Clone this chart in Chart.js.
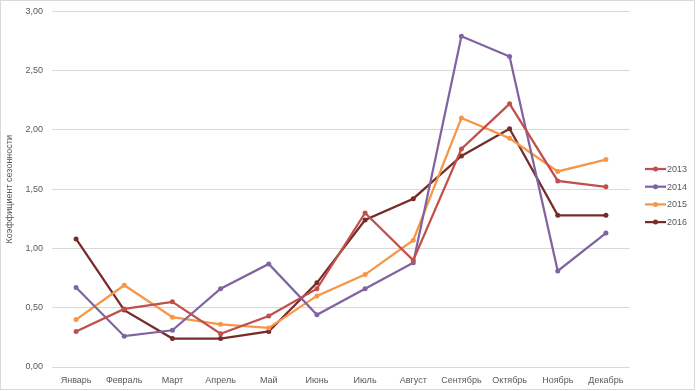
<!DOCTYPE html>
<html>
<head>
<meta charset="utf-8">
<script src="https://cdn.jsdelivr.net/npm/chart.js@4"></script>
<style>
  body { margin: 0; background: #fff; overflow: hidden; }
  #chart_season { display: block; margin-top: -3px; }
</style>
</head>
<body>
<canvas id="chart_season" width="696" height="394"></canvas>
<script>
const months = ["Январь", "Февраль", "Март", "Апрель", "Май", "Июнь", "Июль", "Август", "Сентябрь", "Октябрь", "Ноябрь", "Декабрь"];
const years = ["2013", "2014", "2015", "2016"];
const colors = ["#C0504D", "#8064A2", "#F79646", "#772C2A"];

const v2013 = [0.30, 0.49, 0.55, 0.28, 0.43, 0.66, 1.30, 0.90, 1.84, 2.22, 1.57, 1.52];
const v2014 = [0.67, 0.26, 0.31, 0.66, 0.87, 0.44, 0.66, 0.88, 2.79, 2.62, 0.81, 1.13];
const v2015 = [0.40, 0.69, 0.42, 0.36, 0.33, 0.60, 0.78, 1.07, 2.10, 1.93, 1.65, 1.75];
const v2016 = [1.08, 0.48, 0.24, 0.24, 0.30, 0.71, 1.24, 1.42, 1.78, 2.01, 1.28, 1.28];
const series = [v2013, v2014, v2015, v2016];

const yTicks = [0, 0.5, 1, 1.5, 2, 2.5, 3];

const textColor = "#595959";
const fontName = "'Liberation Sans', Arial, sans-serif";

// legend + chart border drawn by hand, excel style (canvas is shifted up 3px)
const legendPlugin = {
    id: "excelLegend",
    afterDraw(chart) {
        const ctx = chart.ctx;
        ctx.save();
        ctx.strokeStyle = "#d9d9d9";
        ctx.lineWidth = 1;
        ctx.strokeRect(0.5, 3.5, 694, 389);

        ctx.font = "9px " + fontName;
        ctx.textBaseline = "middle";
        ctx.textAlign = "left";
        for (let i = 0; i < years.length; i++) {
            const y = 172 + i * 17.7;
            ctx.strokeStyle = colors[i];
            ctx.lineWidth = 2.25;
            ctx.beginPath();
            ctx.moveTo(645, y);
            ctx.lineTo(666, y);
            ctx.stroke();
            ctx.fillStyle = colors[i];
            ctx.beginPath();
            ctx.arc(655.5, y, 2.5, 0, Math.PI * 2);
            ctx.fill();
            ctx.fillStyle = textColor;
            ctx.fillText(years[i], 667, y + 0.5);
        }
        ctx.restore();
    }
};

const chart_season = new Chart("chart_season", {
    type: "line",
    data: {
        labels: months,
        datasets: years.map((y, i) => ({
            label: y,
            data: series[i],
            borderColor: colors[i],
            backgroundColor: colors[i],
            borderWidth: 2.25,
            pointRadius: 2.5,
            pointHoverRadius: 2.5,
            pointBorderWidth: 0,
            tension: 0,
            fill: false
        }))
    },
    options: {
        responsive: false,
        animation: false,
        layout: {padding: {top: 8, right: 66, bottom: 0, left: 0}},
        plugins: {
            legend: {display: false},
            tooltip: {enabled: false}
        },
        scales: {
            x: {
                offset: true,
                grid: {display: false, drawTicks: false},
                border: {display: false},
                ticks: {
                    color: textColor,
                    font: {family: fontName, size: 9},
                    maxRotation: 0,
                    autoSkip: false,
                    padding: 8
                },
                afterFit(scale) { scale.height = 24; }
            },
            y: {
                min: 0,
                max: 3,
                afterBuildTicks(scale) { scale.ticks = yTicks.map(v => ({value: v})); },
                grid: {color: "#d9d9d9", lineWidth: 1, drawTicks: false},
                border: {display: false},
                ticks: {
                    color: textColor,
                    font: {family: fontName, size: 9},
                    padding: 9,
                    callback: v => v.toFixed(2).replace(".", ",")
                },
                title: {
                    display: true,
                    text: "Коэффициент сезонности",
                    color: textColor,
                    font: {family: fontName, size: 9},
                    padding: {top: 4, bottom: 0}
                },
                afterFit(scale) { scale.width = 52; }
            }
        }
    },
    plugins: [legendPlugin]
});
</script>
</body>
</html>
